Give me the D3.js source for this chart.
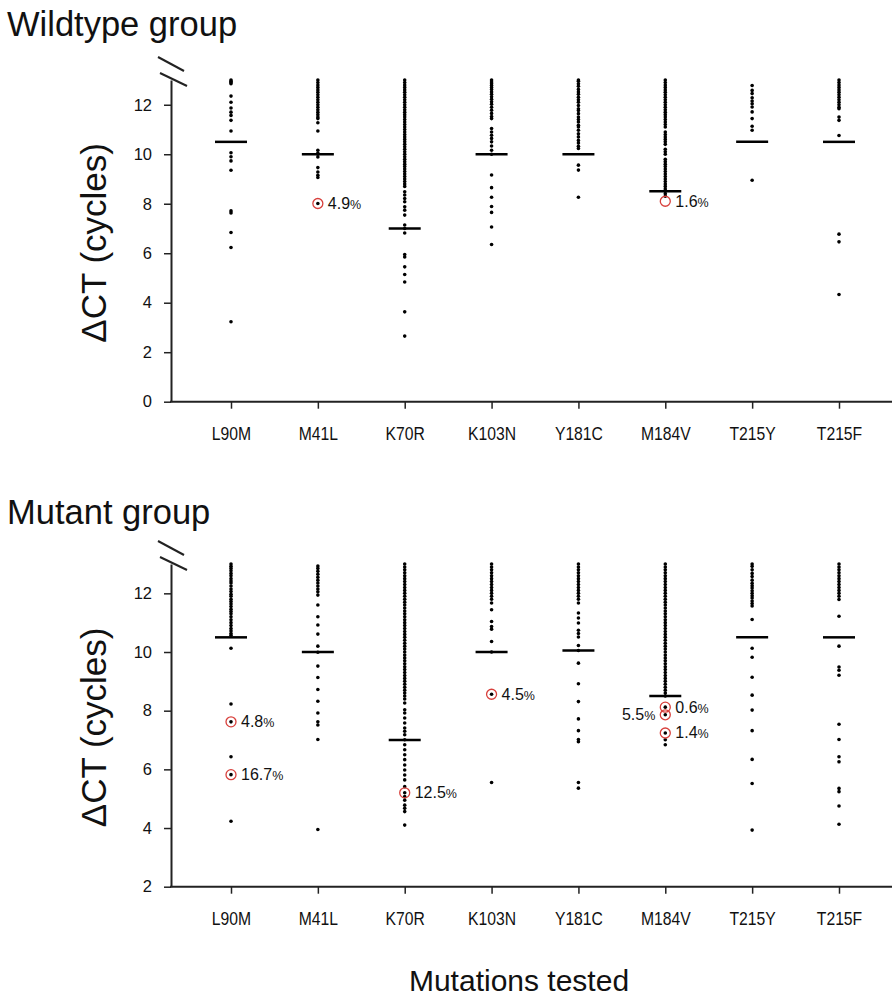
<!DOCTYPE html>
<html>
<head>
<meta charset="utf-8">
<script src="https://cdn.jsdelivr.net/npm/d3@7"></script>
<style>
body { margin: 0; background: #fff; }
svg text { font-family: "Liberation Sans", Arial, sans-serif; fill: #111; }
</style>
</head>
<body>
<div class="plot-1"></div>
<script>
/*categorias (eixo x)*/
const mutations = ['L90M', 'M41L', 'K70R', 'K103N', 'Y181C', 'M184V', 'T215Y', 'T215F'];

/*ticks do eixo y*/
const wtTicks = [0, 2, 4, 6, 8, 10, 12];
const mtTicks = [2, 4, 6, 8, 10, 12];

/*Wildtype group - valores de delta CT*/
const wtL90M = [13.0, 12.95, 12.9, 12.85, 12.35, 12.1, 11.87, 11.7, 11.57, 11.37, 10.94, 10.06, 9.9, 9.73, 9.35, 7.71, 7.63, 6.84, 6.23, 3.23];
const wtM41L = [13.0, 12.9, 12.8, 12.7, 12.6, 12.5, 12.4, 12.3, 12.2, 12.1, 12.0, 11.9, 11.8, 11.7, 11.6, 11.5, 11.44, 11.27, 10.94, 10.16, 10.05, 10.0, 9.89, 9.46, 9.28, 9.15, 9.06, 8.01];
const wtK70R = [13.0, 12.9, 12.8, 12.7, 12.6, 12.5, 12.4, 12.3, 12.2, 12.1, 12.0, 11.9, 11.8, 11.7, 11.6, 11.5, 11.4, 11.3, 11.2, 11.1, 11.0, 10.9, 10.8, 10.7, 10.6, 10.5, 10.4, 10.3, 10.2, 10.1, 10.0, 9.9, 9.8, 9.7, 9.6, 9.5, 9.4, 9.3, 9.2, 9.1, 9.0, 8.9, 8.8, 8.7, 8.48, 8.35, 8.21, 8.08, 7.88, 7.74, 7.54, 7.14, 7.0, 6.82, 5.95, 5.85, 5.45, 5.14, 4.84, 3.63, 2.65];
const wtK103N = [13.0, 12.92, 12.85, 12.78, 12.7, 12.62, 12.52, 12.42, 12.32, 12.22, 12.12, 12.02, 11.9, 11.78, 11.65, 11.52, 11.44, 11.04, 10.9, 10.77, 10.64, 10.5, 10.33, 10.16, 10.0, 9.16, 8.65, 8.26, 7.89, 7.65, 7.06, 6.35];
const wtY181C = [13.0, 12.95, 12.85, 12.75, 12.62, 12.52, 12.42, 12.3, 12.2, 12.1, 11.97, 11.84, 11.77, 11.64, 11.5, 11.4, 11.3, 11.17, 11.1, 10.97, 10.83, 10.7, 10.56, 10.45, 10.32, 10.23, 9.56, 9.36, 8.26];
const wtM184V = [13.0, 12.9, 12.8, 12.7, 12.6, 12.5, 12.4, 12.3, 12.2, 12.1, 12.0, 11.9, 11.8, 11.7, 11.6, 11.5, 11.4, 11.3, 11.2, 11.1, 10.9, 10.8, 10.7, 10.6, 10.5, 10.4, 10.2, 10.1, 10.0, 9.8, 9.7, 9.6, 9.5, 9.4, 9.3, 9.2, 9.1, 9.0, 8.9, 8.8, 8.7, 8.6, 8.5, 8.4, 8.3];
const wtT215Y = [12.78, 12.58, 12.45, 12.28, 12.15, 12.04, 11.91, 11.71, 11.44, 11.13, 10.97, 8.95];
const wtT215F = [13.0, 12.9, 12.8, 12.7, 12.6, 12.5, 12.4, 12.3, 12.2, 12.1, 12.0, 11.9, 11.84, 11.5, 11.37, 10.76, 6.77, 6.46, 4.33];
const wtMedians = [10.5, 10.0, 7.0, 10.0, 10.0, 8.5, 10.5, 10.5];

/*Mutant group - valores de delta CT*/
const mtL90M = [13.0, 12.92, 12.85, 12.77, 12.68, 12.6, 12.5, 12.42, 12.35, 12.25, 12.15, 12.06, 11.97, 11.9, 11.8, 11.72, 11.64, 11.55, 11.46, 11.38, 11.3, 11.2, 11.1, 11.0, 10.9, 10.8, 10.72, 10.63, 10.57, 10.13, 8.23, 7.62, 6.43, 5.82, 4.23];
const mtM41L = [12.93, 12.85, 12.75, 12.65, 12.55, 12.45, 12.35, 12.25, 12.15, 12.05, 11.94, 11.6, 11.2, 10.92, 10.61, 10.2, 9.99, 9.52, 9.13, 8.72, 8.32, 7.92, 7.62, 7.51, 7.02, 3.95];
const mtK70R = [13.0, 12.9, 12.8, 12.7, 12.6, 12.5, 12.4, 12.3, 12.2, 12.1, 12.0, 11.9, 11.8, 11.7, 11.6, 11.5, 11.4, 11.3, 11.2, 11.1, 11.0, 10.9, 10.8, 10.7, 10.6, 10.5, 10.4, 10.3, 10.2, 10.1, 10.0, 9.9, 9.8, 9.7, 9.6, 9.5, 9.4, 9.3, 9.2, 9.1, 9.0, 8.9, 8.8, 8.7, 8.6, 8.5, 8.4, 8.26, 8.03, 7.92, 7.75, 7.58, 7.41, 7.3, 7.18, 7.01, 6.84, 6.67, 6.5, 6.33, 6.15, 5.98, 5.81, 5.64, 5.41, 5.2, 5.07, 4.95, 4.78, 4.67, 4.56, 4.1];
const mtK103N = [13.0, 12.9, 12.8, 12.7, 12.6, 12.5, 12.4, 12.3, 12.2, 12.1, 12.0, 11.9, 11.8, 11.67, 11.44, 11.04, 10.87, 10.78, 10.36, 10.0, 8.56, 5.55];
const mtY181C = [13.0, 12.9, 12.8, 12.7, 12.6, 12.5, 12.4, 12.3, 12.2, 12.1, 12.0, 11.9, 11.8, 11.67, 11.33, 11.16, 10.99, 10.74, 10.63, 10.51, 10.22, 10.05, 9.62, 8.92, 8.31, 7.72, 7.32, 7.02, 6.94, 5.55, 5.36];
const mtM184V = [13.0, 12.9, 12.8, 12.7, 12.6, 12.5, 12.4, 12.3, 12.2, 12.1, 12.0, 11.9, 11.8, 11.7, 11.6, 11.5, 11.4, 11.3, 11.2, 11.1, 11.0, 10.9, 10.8, 10.7, 10.6, 10.5, 10.4, 10.3, 10.2, 10.1, 10.0, 9.9, 9.8, 9.7, 9.6, 9.5, 9.4, 9.3, 9.2, 9.1, 9.0, 8.9, 8.8, 8.7, 8.6, 8.5, 8.12, 7.86, 7.24, 7.01, 6.84];
const mtT215Y = [13.0, 12.92, 12.8, 12.68, 12.57, 12.45, 12.34, 12.26, 12.18, 12.09, 12.0, 11.92, 11.84, 11.74, 11.65, 11.57, 11.11, 10.13, 9.82, 9.14, 8.53, 8.02, 7.32, 6.34, 5.52, 3.93];
const mtT215F = [13.0, 12.9, 12.8, 12.7, 12.6, 12.5, 12.4, 12.3, 12.2, 12.1, 12.0, 11.9, 11.79, 11.22, 10.2, 9.49, 9.38, 9.21, 7.54, 7.02, 6.43, 6.26, 5.35, 5.24, 4.75, 4.13];
const mtMedians = [10.5, 10.0, 7.0, 10.0, 10.05, 8.5, 10.5, 10.5];

/*pontos destacados (circulos vermelhos) e percentuais*/
const wtHighlights = [
	{ mut: 'M41L', value: 8.01, pct: '4.9', side: 'right' },
	{ mut: 'M184V', value: 8.1, pct: '1.6', side: 'right' }
];
const mtHighlights = [
	{ mut: 'L90M', value: 7.62, pct: '4.8', side: 'right' },
	{ mut: 'L90M', value: 5.82, pct: '16.7', side: 'right' },
	{ mut: 'K70R', value: 5.2, pct: '12.5', side: 'right' },
	{ mut: 'K103N', value: 8.56, pct: '4.5', side: 'right' },
	{ mut: 'M184V', value: 8.12, pct: '0.6', side: 'right' },
	{ mut: 'M184V', value: 7.86, pct: '5.5', side: 'left' },
	{ mut: 'M184V', value: 7.24, pct: '1.4', side: 'right' }
];

var svgDims = { width: 892, height: 996 };
var axisX = 171;
var xRight = 892;

//criar svg
var svg = d3.select('.plot-1')
			.append('svg')
			.attr('width', svgDims.width)
			.attr('height', svgDims.height);

var xScale = d3.scalePoint()
				.domain(mutations)
				.range([231, 839]);

function drawPanel(p){
	/*
	Desenha um painel de pontos (dot plot) com mediana
	p.series -- arrays de valores, na ordem das mutacoes
	*/
	var yScale = d3.scaleLinear()
					.domain(p.domain)
					.range([p.bottom, p.top]);

	//titulo do painel
	svg.append('text')
		.attr('x', 7)
		.attr('y', p.titleY)
		.style('font-size', '34.5px')
		.text(p.title);

	//eixo y
	var gy = svg.append('g')
		.attr('transform', 'translate(' + axisX + ',0)')
		.call(d3.axisLeft(yScale).tickValues(p.ticks).tickSize(7).tickPadding(12).tickSizeOuter(0));
	gy.select('.domain').attr('stroke', '#222').attr('stroke-width', 2);
	gy.selectAll('.tick line').attr('stroke', '#222').attr('stroke-width', 1.5);
	gy.selectAll('text').style('font-size', '16.5px').attr('fill', '#111');

	//eixo x (rotulos um pouco condensados)
	var gx = svg.append('g')
		.attr('transform', 'translate(0,' + p.bottom + ')')
		.call(d3.axisBottom(xScale).tickSize(7).tickPadding(18).tickSizeOuter(0));
	gx.select('.domain').remove();
	gx.selectAll('.tick line').attr('stroke', '#222').attr('stroke-width', 1.5);
	gx.selectAll('text')
		.style('font-size', '18.5px')
		.attr('fill', '#111')
		.attr('transform', 'scale(0.85,1)');
	svg.append('line')
		.attr('x1', axisX - 1).attr('x2', xRight)
		.attr('y1', p.bottom).attr('y2', p.bottom)
		.attr('stroke', '#222').attr('stroke-width', 2);

	//quebra do eixo
	[[-13, -23, 13, -9], [-11, -7, 16, 6]].forEach(function(b){
		svg.append('line')
			.attr('x1', axisX + b[0]).attr('y1', p.top + b[1])
			.attr('x2', axisX + b[2]).attr('y2', p.top + b[3])
			.attr('stroke', '#222').attr('stroke-width', 2);
	});

	//rotulo do eixo y
	svg.append('text')
		.attr('transform', 'translate(106,' + ((p.top + p.bottom) / 2 + 2) + ') rotate(-90)')
		.attr('text-anchor', 'middle')
		.style('font-size', '35px')
		.text('\u0394CT (cycles)');

	//pontos
	mutations.forEach(function(m, i){
		svg.append('g').selectAll('circle')
			.data(p.series[i])
			.enter().append('circle')
			.attr('cx', xScale(m))
			.attr('cy', function(d){ return yScale(d); })
			.attr('r', 1.8)
			.attr('fill', '#000');
	});

	//medianas
	svg.append('g').selectAll('line')
		.data(p.medians)
		.enter().append('line')
		.attr('x1', function(d, i){ return xScale(mutations[i]) - 16; })
		.attr('x2', function(d, i){ return xScale(mutations[i]) + 16; })
		.attr('y1', function(d){ return yScale(d); })
		.attr('y2', function(d){ return yScale(d); })
		.attr('stroke', '#000')
		.attr('stroke-width', 2.5);

	//destaques
	p.highlights.forEach(function(h){
		var cx = xScale(h.mut), cy = yScale(h.value);
		svg.append('circle')
			.attr('cx', cx).attr('cy', cy).attr('r', 5)
			.attr('fill', 'none')
			.attr('stroke', '#d8403c')
			.attr('stroke-width', 1.3);
		var t = svg.append('text')
			.attr('x', h.side === 'right' ? cx + 10 : cx - 10)
			.attr('y', cy + 5.5)
			.attr('text-anchor', h.side === 'right' ? 'start' : 'end')
			.style('font-size', '16px');
		t.append('tspan').text(h.pct);
		t.append('tspan').style('font-size', '12.5px').text('%');
	});
};

drawPanel({
	title: 'Wildtype group', titleY: 36,
	domain: [0, 13], top: 80, bottom: 401.7, ticks: wtTicks,
	series: [wtL90M, wtM41L, wtK70R, wtK103N, wtY181C, wtM184V, wtT215Y, wtT215F],
	medians: wtMedians, highlights: wtHighlights
});

drawPanel({
	title: 'Mutant group', titleY: 524,
	domain: [2, 13], top: 564, bottom: 886.7, ticks: mtTicks,
	series: [mtL90M, mtM41L, mtK70R, mtK103N, mtY181C, mtM184V, mtT215Y, mtT215F],
	medians: mtMedians, highlights: mtHighlights
});

//titulo do eixo x
svg.append('text')
	.attr('x', 519)
	.attr('y', 991)
	.attr('text-anchor', 'middle')
	.style('font-size', '30px')
	.text('Mutations tested');
</script>
</body>
</html>
